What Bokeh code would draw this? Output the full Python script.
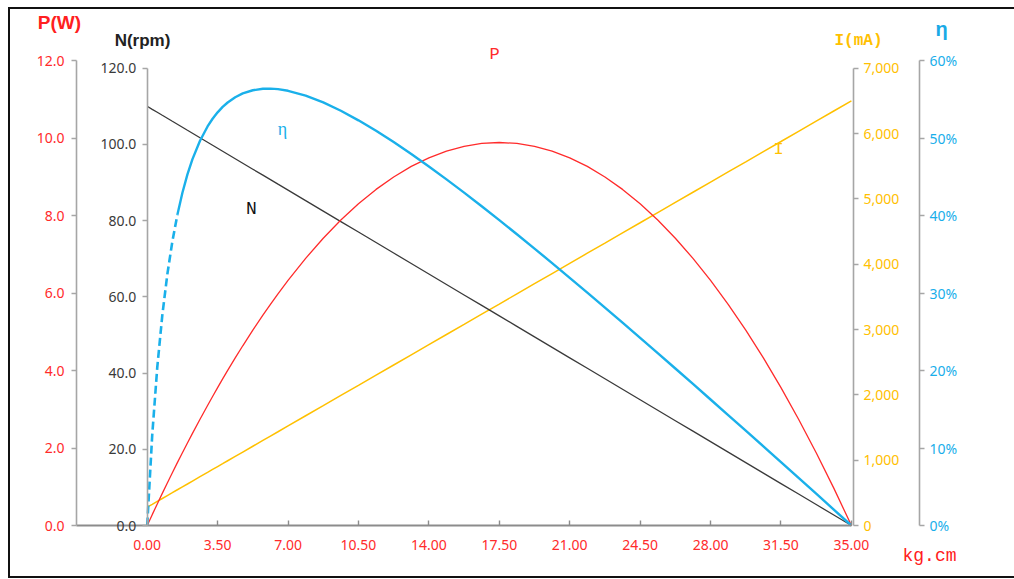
from bokeh.plotting import figure
from bokeh.models import Range1d, LinearAxis, FixedTicker, NumeralTickFormatter, PrintfTickFormatter, Label
from bokeh.embed import file_html
from bokeh.resources import INLINE

# ---- data ----
torque = [0, 0.25, 0.5, 0.75, 1.0, 1.25, 1.5, 1.75, 2.0, 2.25, 2.625, 3.0, 3.25, 3.5, 3.75,
          4.0, 4.375, 4.75, 5.25, 5.75, 6.125, 6.5, 7.0, 7.875, 8.75, 9.625, 10.5, 11.375,
          12.25, 13.125, 14.0, 14.875, 15.75, 16.625, 17.5, 18.375, 19.25, 20.125, 21.0,
          21.875, 22.75, 23.625, 24.5, 25.375, 26.25, 27.125, 28.0, 28.875, 29.75, 30.625,
          31.5, 32.375, 33.25, 34.125, 35.0]
speed = [110.0, 109.21, 108.43, 107.64, 106.86, 106.07, 105.29, 104.5, 103.71, 102.93,
         101.75, 100.57, 99.79, 99.0, 98.21, 97.43, 96.25, 95.07, 93.5, 91.93, 90.75, 89.57,
         88.0, 85.25, 82.5, 79.75, 77.0, 74.25, 71.5, 68.75, 66.0, 63.25, 60.5, 57.75, 55.0,
         52.25, 49.5, 46.75, 44.0, 41.25, 38.5, 35.75, 33.0, 30.25, 27.5, 24.75, 22.0, 19.25,
         16.5, 13.75, 11.0, 8.25, 5.5, 2.75, 0.0]
power = [0, 0.280, 0.557, 0.829, 1.097, 1.362, 1.622, 1.878, 2.130, 2.378, 2.743, 3.098,
         3.330, 3.558, 3.782, 4.002, 4.324, 4.638, 5.041, 5.428, 5.708, 5.979, 6.326, 6.894,
         7.413, 7.883, 8.303, 8.674, 8.995, 9.267, 9.489, 9.662, 9.786, 9.860, 9.884, 9.860,
         9.786, 9.662, 9.489, 9.267, 8.995, 8.674, 8.303, 7.883, 7.413, 6.894, 6.326, 5.708,
         5.041, 4.324, 3.558, 2.743, 1.878, 0.964, 0]
current = [280, 324, 369, 413, 458, 502, 547, 591, 635, 680, 747, 813, 858, 902, 946, 991,
           1058, 1124, 1213, 1302, 1369, 1435, 1524, 1680, 1835, 1991, 2146, 2302, 2457,
           2613, 2768, 2924, 3079, 3235, 3390, 3546, 3701, 3857, 4012, 4168, 4323, 4479,
           4634, 4790, 4945, 5101, 5256, 5412, 5567, 5723, 5878, 6034, 6189, 6345, 6500]
efficiency = [0, 11.68, 20.40, 27.11, 32.40, 36.64, 40.10, 42.94, 45.30, 47.27, 49.65,
              51.49, 52.48, 53.31, 54.01, 54.58, 55.26, 55.75, 56.16, 56.35, 56.37, 56.30,
              56.09, 55.47, 54.59, 53.52, 52.28, 50.93, 49.47, 47.93, 46.33, 44.66, 42.95,
              41.19, 39.40, 37.58, 35.73, 33.86, 31.96, 30.05, 28.12, 26.17, 24.21, 22.24,
              20.26, 18.27, 16.26, 14.25, 12.24, 10.21, 8.18, 6.14, 4.10, 2.05, 0]
eff_dash_until = 1.5

x_ticks = [0, 3.5, 7, 10.5, 14, 17.5, 21, 24.5, 28, 31.5, 35]
p_ticks = [0, 2, 4, 6, 8, 10, 12]
n_ticks = [0, 20, 40, 60, 80, 100, 120]
i_ticks = [0, 1000, 2000, 3000, 4000, 5000, 6000, 7000]
e_ticks = [0, 10, 20, 30, 40, 50, 60]

RED = "#FF2B2B"
BLUE = "#1AB0EA"
ORANGE = "#FFC000"
DARK = "#3A3A3A"
AXIS = "#A6A6A6"
TICKFONT = "Noto Sans"

W, H = 1014, 578
# pixel geometry of the reference (page coordinates)
X0, XPX = 146.7, 20.12       # x = 0 position, px per kg.cm
Y0 = 525.0                   # value 0 for all y axes
P_PX = 465.0 / 12            # px per W
N_PX = 457.3 / 120           # px per rpm
I_PX = 457.3 / 7000          # px per mA
E_PX = 465.0 / 60            # px per %

def yr(ppu):
    return Range1d(-(H - Y0) / ppu, Y0 / ppu)

p = figure(width=W, height=H, output_backend="svg", toolbar_location=None,
           x_range=Range1d(-X0 / XPX, (W - X0) / XPX), y_range=yr(P_PX),
           x_axis_location=None, y_axis_location=None, min_border=0)
p.background_fill_color = None
p.border_fill_color = None
p.outline_line_color = None
p.xgrid.visible = False
p.ygrid.visible = False
p.styles = {"box-shadow": ("inset 8px 0 0 0 #fff, inset 0 7px 0 0 #fff, "
                           "inset 10px 0 0 0 #111, inset 0 9px 0 0 #111, "
                           "inset 0 -2px 0 0 #111")}

p.extra_y_ranges = {"n": yr(N_PX), "i": yr(I_PX), "e": yr(E_PX)}

X_LEFT = (76 - X0) / XPX
X_RIGHT = (919 - X0) / XPX

def style_axis(ax, color, ticks, fmt):
    ax.ticker = FixedTicker(ticks=ticks)
    ax.formatter = fmt
    ax.axis_line_color = AXIS
    ax.axis_line_width = 1.6
    ax.major_tick_line_color = AXIS
    ax.major_tick_line_width = 1.4
    ax.minor_tick_line_color = None
    ax.major_tick_in = 0
    ax.major_tick_out = 5
    ax.major_label_text_color = color
    ax.major_label_text_font = TICKFONT
    ax.major_label_text_font_size = "14px"
    ax.major_label_standoff = 6

# x axis
xa = LinearAxis(fixed_location=0, bounds=(X_LEFT, 35))
style_axis(xa, RED, x_ticks, NumeralTickFormatter(format="0.00"))
xa.axis_line_color = "#8C8C8C"
xa.axis_line_width = 2.2
xa.major_tick_line_color = "#8C8C8C"
xa.major_tick_in = 5
xa.major_tick_out = 0
xa.major_label_standoff = 14
p.add_layout(xa, "below")

# P axis
pa = LinearAxis(fixed_location=X_LEFT, bounds=(0, 12))
style_axis(pa, RED, p_ticks, NumeralTickFormatter(format="0.0"))
pa.major_label_standoff = 7
p.add_layout(pa, "left")

# N axis at x = 0
na = LinearAxis(y_range_name="n", fixed_location=0, bounds=(0, 120))
style_axis(na, DARK, n_ticks, NumeralTickFormatter(format="0.0"))
p.add_layout(na, "left")

# I axis at x = 35
ia = LinearAxis(y_range_name="i", fixed_location=35.1, bounds=(0, 7000))
style_axis(ia, ORANGE, i_ticks, NumeralTickFormatter(format="0,0"))
ia.major_label_standoff = 5
p.add_layout(ia, "right")

# efficiency axis
ea = LinearAxis(y_range_name="e", fixed_location=X_RIGHT, bounds=(0, 60))
style_axis(ea, "#19AEEA", e_ticks, PrintfTickFormatter(format="%d%%"))
ea.major_label_standoff = 5
p.add_layout(ea, "right")

# series
p.line(torque, current, y_range_name="i", line_color=ORANGE, line_width=1.5)
p.line(torque, speed, y_range_name="n", line_color=DARK, line_width=1.3)
p.line(torque, power, line_color=RED, line_width=1.3)

k = max(i for i, t in enumerate(torque) if t <= eff_dash_until)
p.line(torque[:k + 1], efficiency[:k + 1], y_range_name="e", line_color=BLUE,
       line_width=2.6, line_dash="8 4")
p.line(torque[k:], efficiency[k:], y_range_name="e", line_color=BLUE, line_width=2.4,
       line_join="round")

def lab(px, py, text, color, font, size, style="normal"):
    p.add_layout(Label(x=(px - X0) / XPX, y=(Y0 - py) / P_PX, text=text, text_color=color,
                       text_font=font, text_font_size=size, text_font_style=style,
                       text_align="center", text_baseline="middle"))

# axis titles (page pixel positions)
lab(59, 22, "P(W)", "#FF2020", "Liberation Sans", "19px", "bold")
lab(142, 40, "N(rpm)", "#222222", "Liberation Sans", "17px", "bold")
lab(858, 40, "I(mA)", ORANGE, "Liberation Mono", "16px", "bold")
lab(941, 28, "η", "#1AAAE6", "Liberation Sans", "20px", "bold")
lab(929, 555, "kg.cm", "#FF2020", "Liberation Mono", "18px")

# series labels
lab(494, 54, "P", RED, "Liberation Mono", "17px")
lab(282, 128, "η", BLUE, "Liberation Serif", "18px")
lab(251, 208, "N", "#111111", "Liberation Mono", "18px")
lab(778, 149, "I", ORANGE, "Liberation Mono", "17px")

open("out.html", "w").write(file_html(p, INLINE))
